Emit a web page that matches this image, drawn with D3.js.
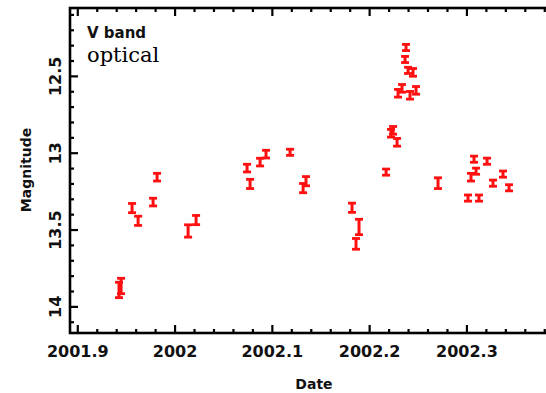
<!DOCTYPE html>
<html>
<head>
<meta charset="utf-8">
<script src="https://cdn.jsdelivr.net/npm/d3@7"></script>
<style>
    body { margin: 0; background: #fff; }
    .tickLabel, .axisTitle, .bandLabel { font-family: "DejaVu Sans", sans-serif; font-weight: bold; fill: #111; }
    .opticalLabel { font-family: "DejaVu Serif", serif; fill: #000; }
</style>
</head>
<body>
<div id="chart"></div>
<script>
// observation dates (decimal year), V magnitudes and 1-sigma errors
var dates = [2001.9424, 2001.9445, 2001.9558, 2001.9620, 2001.9774, 2001.9815,
             2002.0134, 2002.0216, 2002.0740, 2002.0771, 2002.0874, 2002.0935,
             2002.1182, 2002.1316, 2002.1346, 2002.1819, 2002.1860, 2002.1891,
             2002.2169, 2002.2220, 2002.2241, 2002.2282, 2002.2292, 2002.2333,
             2002.2364, 2002.2374, 2002.2395, 2002.2415, 2002.2446, 2002.2477,
             2002.2703, 2002.3011, 2002.3042, 2002.3073, 2002.3094, 2002.3124,
             2002.3207, 2002.3268, 2002.3371, 2002.3433];
var mags  = [13.890, 13.864, 13.357, 13.440, 13.318, 13.156,
             13.506, 13.435, 13.097, 13.200, 13.058, 13.006,
             12.994, 13.227, 13.182, 13.355, 13.590, 13.480,
             13.123, 12.870, 12.851, 12.929, 12.610, 12.578,
             12.390, 12.312, 12.461, 12.623, 12.474, 12.591,
             13.195, 13.292, 13.156, 13.039, 13.117, 13.292,
             13.052, 13.195, 13.136, 13.225];
var errs  = [0.05, 0.05, 0.03, 0.03, 0.025, 0.025,
             0.04, 0.03, 0.025, 0.03, 0.025, 0.025,
             0.02, 0.03, 0.03, 0.03, 0.035, 0.05,
             0.02, 0.025, 0.025, 0.025, 0.025, 0.025,
             0.02, 0.02, 0.02, 0.025, 0.025, 0.025,
             0.035, 0.02, 0.025, 0.02, 0.02, 0.02,
             0.02, 0.02, 0.02, 0.02];

var xMajor = [2001.9, 2002, 2002.1, 2002.2, 2002.3];
var xLabels = ["2001.9", "2002", "2002.1", "2002.2", "2002.3"];
var yMajor = [12.5, 13, 13.5, 14];
var yLabels = ["12.5", "13", "13.5", "14"];

var width = 546,
    height = 393,
    frameLeft = 70,
    frameTop = 8,
    frameRight = 550,   // frame runs off the right edge of the picture
    frameBottom = 333,
    majorLen = 8,
    minorLen = 4;

var x = d3.scaleLinear().domain([2001.892, 2002.3854]).range([frameLeft, frameRight]);
var y = d3.scaleLinear().domain([12.055, 14.17]).range([frameTop, frameBottom]);

var svg = d3.select("#chart")
            .append("svg")
            .attr("width", width)
            .attr("height", height);

// minor ticks every 0.02 yr and 0.1 mag
var xMinor = d3.range(0, 26).map(function(i) {return 2001.9 + i * 0.02; })
               .filter(function(d) {return x(d) < frameRight; });
var yMinor = d3.range(0, 21).map(function(i) {return 12.1 + i * 0.1; })
               .filter(function(d) {return y(d) < frameBottom; });

function isMajor(list, d) {
    return list.some(function(m) {return Math.abs(m - d) < 1e-6; });
}

var ticks = svg.append("g")
               .attr("stroke", "#000")
               .attr("stroke-width", 2.2);

// bottom and top ticks, pointing inward
[frameBottom, frameTop].forEach(function(edge) {
    var dir = edge === frameBottom ? -1 : 1;
    ticks.selectAll(null)
         .data(xMinor)
         .enter()
         .append("line")
         .attr("x1", function(d) {return x(d); })
         .attr("x2", function(d) {return x(d); })
         .attr("y1", edge)
         .attr("y2", function(d) {return edge + dir * (isMajor(xMajor, d) ? majorLen : minorLen); });
});

ticks.selectAll(null)
     .data(yMinor)
     .enter()
     .append("line")
     .attr("y1", function(d) {return y(d); })
     .attr("y2", function(d) {return y(d); })
     .attr("x1", frameLeft)
     .attr("x2", function(d) {return frameLeft + (isMajor(yMajor, d) ? majorLen : minorLen); });

// frame
svg.append("rect")
   .attr("x", frameLeft)
   .attr("y", frameTop)
   .attr("width", frameRight - frameLeft)
   .attr("height", frameBottom - frameTop)
   .attr("fill", "none")
   .attr("stroke", "#000")
   .attr("stroke-width", 2.6);

// tick labels
svg.selectAll(".xLabel")
   .data(xMajor)
   .enter()
   .append("text")
   .attr("class", "tickLabel xLabel")
   .attr("x", function(d) {return x(d); })
   .attr("y", 357)
   .attr("text-anchor", "middle")
   .style("font-size", "16px")
   .text(function(d, i) {return xLabels[i]; });

svg.selectAll(".yLabel")
   .data(yMajor)
   .enter()
   .append("text")
   .attr("class", "tickLabel yLabel")
   .attr("transform", function(d) {return "translate(61," + y(d) + ") rotate(-90)"; })
   .attr("text-anchor", "middle")
   .style("font-size", "16px")
   .text(function(d, i) {return yLabels[i]; });

// axis titles
svg.append("text")
   .attr("class", "axisTitle")
   .attr("x", 314)
   .attr("y", 389)
   .attr("text-anchor", "middle")
   .style("font-size", "14px")
   .text("Date");

svg.append("text")
   .attr("class", "axisTitle")
   .attr("transform", "translate(31,170) rotate(-90)")
   .attr("text-anchor", "middle")
   .style("font-size", "14px")
   .text("Magnitude");

svg.append("text")
   .attr("class", "bandLabel")
   .attr("x", 87)
   .attr("y", 38)
   .style("font-size", "15px")
   .text("V band");

svg.append("text")
   .attr("class", "opticalLabel")
   .attr("x", 87)
   .attr("y", 62)
   .style("font-size", "21px")
   .text("optical");

// error bars
var points = dates.map(function(d, i) {return {date : d, mag : mags[i], err : errs[i]}; });

var bars = svg.append("g")
              .attr("stroke", "#ff1010")
              .attr("stroke-width", 2.8)
              .selectAll(".errBar")
              .data(points)
              .enter()
              .append("g")
              .attr("class", "errBar");

bars.append("line")
    .attr("x1", function(d) {return x(d.date); })
    .attr("x2", function(d) {return x(d.date); })
    .attr("y1", function(d) {return y(d.mag - d.err); })
    .attr("y2", function(d) {return y(d.mag + d.err); })
    .attr("stroke-width", 3);

[-1, 1].forEach(function(s) {
    bars.append("line")
        .attr("x1", function(d) {return x(d.date) - 4; })
        .attr("x2", function(d) {return x(d.date) + 4; })
        .attr("y1", function(d) {return y(d.mag + s * d.err); })
        .attr("y2", function(d) {return y(d.mag + s * d.err); });
});
</script>
</body>
</html>
